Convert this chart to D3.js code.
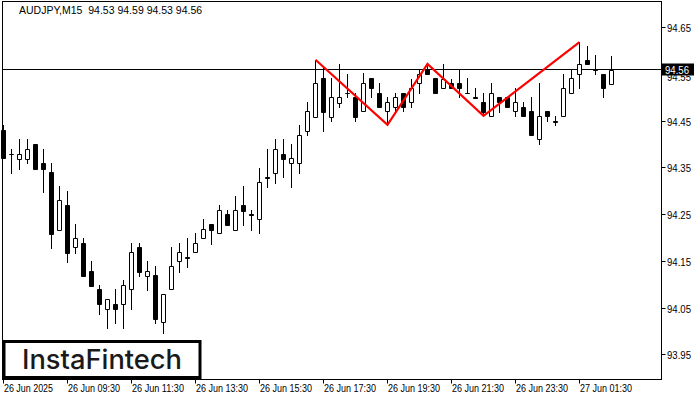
<!DOCTYPE html>
<html><head><meta charset="utf-8">
<script src="https://cdn.jsdelivr.net/npm/d3@7"></script>
<style>html,body{margin:0;padding:0;background:#fff;}svg{display:block;}</style>
</head><body>
<svg id="chart" width="700" height="400"></svg>
<script>
const symbolTitle = "AUDJPY,M15  94.53 94.59 94.53 94.56";
const startTime = new Date(2025, 5, 26, 7, 30);
const endTime = new Date(2025, 5, 27, 2, 31);
const openP  = [94.432,94.381,94.370,94.370,94.402,94.361,94.342,94.218,94.271,94.182,94.190,94.130,94.092,94.049,94.060,94.060,94.092,94.182,94.120,94.122,94.021,94.092,94.152,94.160,94.171,94.201,94.231,94.212,94.252,94.218,94.271,94.252,94.242,94.331,94.340,94.381,94.361,94.361,94.430,94.460,94.543,94.460,94.490,94.511,94.502,94.472,94.543,94.511,94.472,94.481,94.511,94.492,94.532,94.562,94.543,94.522,94.532,94.532,94.511,94.502,94.492,94.462,94.502,94.502,94.472,94.481,94.472,94.413,94.472,94.451,94.462,94.511,94.552,94.582,94.562,94.552,94.530];
const highP  = [94.443,94.391,94.413,94.413,94.402,94.391,94.361,94.312,94.301,94.231,94.201,94.152,94.100,94.070,94.092,94.111,94.190,94.190,94.152,94.141,94.081,94.182,94.190,94.201,94.212,94.242,94.231,94.271,94.261,94.291,94.312,94.261,94.351,94.391,94.413,94.413,94.402,94.443,94.492,94.582,94.564,94.543,94.573,94.552,94.511,94.554,94.543,94.532,94.502,94.511,94.511,94.541,94.562,94.573,94.543,94.573,94.541,94.562,94.543,94.522,94.511,94.532,94.502,94.502,94.522,94.492,94.502,94.532,94.472,94.462,94.552,94.560,94.620,94.612,94.592,94.552,94.590];
const lowP   = [94.372,94.340,94.348,94.361,94.348,94.299,94.180,94.218,94.150,94.169,94.120,94.098,94.038,94.008,94.019,94.008,94.049,94.120,94.090,94.019,93.998,94.092,94.128,94.139,94.171,94.201,94.188,94.212,94.229,94.218,94.229,94.218,94.212,94.310,94.319,94.331,94.310,94.340,94.421,94.460,94.430,94.451,94.481,94.502,94.451,94.472,94.502,94.481,94.443,94.472,94.472,94.481,94.511,94.552,94.511,94.522,94.522,94.502,94.511,94.502,94.462,94.462,94.470,94.481,94.462,94.462,94.421,94.402,94.451,94.443,94.462,94.511,94.522,94.573,94.552,94.502,94.530];
const closeP = [94.372,94.380,94.381,94.391,94.348,94.348,94.209,94.282,94.169,94.201,94.120,94.098,94.060,94.070,94.049,94.100,94.171,94.128,94.130,94.028,94.081,94.141,94.171,94.159,94.190,94.220,94.218,94.261,94.229,94.261,94.259,94.251,94.321,94.330,94.391,94.370,94.372,94.421,94.472,94.532,94.470,94.502,94.502,94.510,94.460,94.532,94.522,94.481,94.492,94.502,94.481,94.522,94.552,94.552,94.511,94.541,94.522,94.522,94.510,94.501,94.470,94.511,94.492,94.481,94.492,94.462,94.421,94.462,94.462,94.450,94.522,94.543,94.573,94.573,94.561,94.522,94.560];
const yTickValues = [93.95,94.05,94.15,94.25,94.35,94.45,94.55,94.65];
const currentPrice = 94.56;
const patternIndex = [39,48,53,60,72];
const patternPrice = [94.582,94.443,94.573,94.462,94.620];
const logoText = "InstaFintech";

const svg = d3.select("#chart");
const W = 700, H = 400;
const pLeft = 2.5, pRight = 661.5, pTop = 1.5, pBottom = 379.5;

const times = d3.timeMinute.every(15).range(startTime, endTime);
const n = openP.length;
const x = d3.scaleLinear().domain([0, n - 1]).range([3.5, 3.5 + 8 * (n - 1)]);
const y = d3.scaleLinear().domain([94.65 - (379 - 28) / 467.6, 94.65 + (28 - 2) / 467.6]).range([379, 2]);
const snap = v => Math.round(v) + 0.5;

svg.append("rect").attr("x", 0).attr("y", 0).attr("width", W).attr("height", H).attr("fill", "#fff");

// price line
const cpY = snap(y(currentPrice)) - 1;
svg.append("line").attr("x1", pLeft).attr("x2", pRight)
  .attr("y1", cpY).attr("y2", cpY)
  .attr("stroke", "#000").attr("stroke-width", 1);

const candles = d3.range(n).map(i => ({i, t: times[i], o: openP[i], h: highP[i], l: lowP[i], c: closeP[i]}));

const g = svg.append("g");
g.selectAll("line.wick").data(candles).join("line").attr("class", "wick")
  .attr("x1", d => x(d.i)).attr("x2", d => x(d.i))
  .attr("y1", d => Math.round(y(d.h))).attr("y2", d => Math.round(y(d.l)) + 1)
  .attr("stroke", "#000").attr("stroke-width", 1);

g.selectAll("path.body").data(candles).join("path").attr("class", "body")
  .attr("d", d => {
    const x0 = x(d.i) - 2, x1 = x(d.i) + 2;
    const y0 = snap(y(Math.max(d.o, d.c))), y1 = snap(y(Math.min(d.o, d.c)));
    return `M${x0},${y0}H${x1}V${y1}H${x0}Z`;
  })
  .attr("fill", d => d.c < d.o ? "#000" : "#fff")
  .attr("stroke", "#000").attr("stroke-width", 1);

// pattern line
const pattern = patternIndex.map((idx, k) => [x(idx), y(patternPrice[k])]);
svg.append("path").attr("d", d3.line()(pattern))
  .attr("fill", "none").attr("stroke", "#ff0000").attr("stroke-width", 2.2)
  .attr("stroke-linejoin", "miter");

// frame
svg.append("rect").attr("x", pLeft).attr("y", pTop).attr("width", pRight - pLeft).attr("height", pBottom - pTop)
  .attr("fill", "none").attr("stroke", "#000").attr("stroke-width", 1);

const fontFam = "'Liberation Sans', Arial, sans-serif";

// y axis
const yAxis = svg.append("g");
yTickValues.forEach(v => {
  const yy = snap(y(v)) - 1;
  yAxis.append("line").attr("x1", pRight).attr("x2", pRight + 4).attr("y1", yy).attr("y2", yy).attr("stroke", "#000");
  if (Math.abs(v - currentPrice) > 0.02) {
    yAxis.append("text").attr("x", 667).attr("y", yy + 4).attr("font-family", fontFam).attr("font-size", 10.5)
      .attr("textLength", 24).attr("lengthAdjust", "spacingAndGlyphs")
      .attr("fill", "#000").text(v.toFixed(2));
  } else {
    // partly hidden label beneath the current-price marker
    yAxis.append("text").attr("x", 667).attr("y", yy + 6).attr("font-family", fontFam).attr("font-size", 10.5)
      .attr("textLength", 24).attr("lengthAdjust", "spacingAndGlyphs")
      .attr("fill", "#000").text(v.toFixed(2));
  }
});
// current price label
svg.append("rect").attr("x", 662).attr("y", cpY - 6).attr("width", 32).attr("height", 12).attr("fill", "#000");
svg.append("text").attr("x", 665).attr("y", cpY + 4).attr("font-family", fontFam).attr("font-size", 10.5)
  .attr("textLength", 24).attr("lengthAdjust", "spacingAndGlyphs")
  .attr("fill", "#fff").text(currentPrice.toFixed(2));

// x axis
const fmtTime = d3.timeFormat("%d %b %H:%M");
const fmtDate = d3.timeFormat("%d %b %Y");
const xAxis = svg.append("g");
d3.range(0, n, 8).forEach((idx, k) => {
  const xx = x(idx);
  xAxis.append("line").attr("x1", xx).attr("x2", xx).attr("y1", pBottom).attr("y2", pBottom + 4).attr("stroke", "#000");
  xAxis.append("text").attr("x", xx + 0.5).attr("y", 392).attr("font-family", fontFam).attr("font-size", 10.5)
    .attr("textLength", k === 0 ? 49 : 52).attr("lengthAdjust", "spacingAndGlyphs")
    .attr("fill", "#000").text(k === 0 ? fmtDate(times[idx]) : fmtTime(times[idx]));
});

// title
svg.append("text").attr("x", 19).attr("y", 14).attr("font-family", fontFam).attr("font-size", 10.5)
  .attr("fill", "#000").attr("xml:space", "preserve").style("white-space", "pre").text(symbolTitle);

// logo
svg.append("rect").attr("x", 4).attr("y", 341.5).attr("width", 196).attr("height", 36)
  .attr("fill", "#fff").attr("stroke", "#000").attr("stroke-width", 3);
svg.append("text").attr("x", 22).attr("y", 369).attr("font-family", "Inter, 'Noto Sans', sans-serif")
  .attr("font-size", 27).attr("font-weight", 500).attr("fill", "#1a1a1a")
  .attr("textLength", 160).attr("lengthAdjust", "spacingAndGlyphs").text(logoText);
</script>
</body></html>
